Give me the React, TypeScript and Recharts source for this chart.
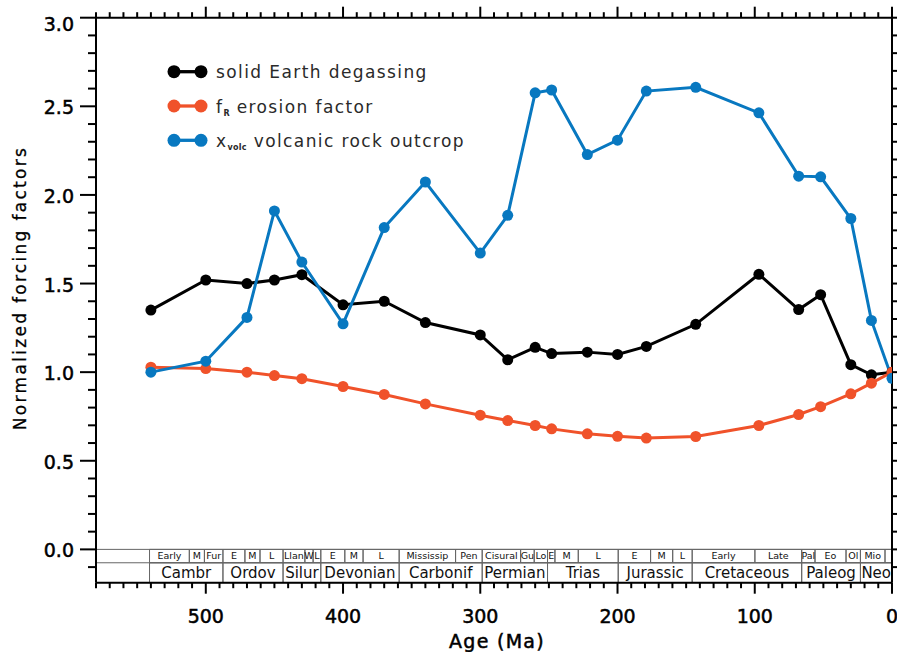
import React from "react";
import {
  LineChart,
  Line,
  XAxis,
  YAxis,
  ReferenceArea,
  ReferenceLine,
  Legend,
} from "recharts";

// Series (age in Ma, normalized values)
const ages = [540, 500, 470, 450, 430, 400, 370, 340, 300, 280, 260, 248, 222, 200, 179, 143, 97, 68, 52, 30, 15, 0];
const degassing = [1.35, 1.52, 1.5, 1.52, 1.55, 1.38, 1.4, 1.28, 1.21, 1.07, 1.14, 1.105, 1.113, 1.1, 1.145, 1.27, 1.552, 1.353, 1.437, 1.042, 0.985, 1.0];
const erosion = [1.028, 1.02, 1.0, 0.981, 0.963, 0.919, 0.874, 0.821, 0.757, 0.727, 0.699, 0.68, 0.652, 0.638, 0.628, 0.637, 0.699, 0.761, 0.805, 0.878, 0.938, 1.0];
const volcanic = [1.0, 1.062, 1.309, 1.91, 1.621, 1.273, 1.816, 2.073, 1.672, 1.885, 2.576, 2.592, 2.228, 2.309, 2.586, 2.607, 2.463, 2.106, 2.102, 1.867, 1.292, 0.965];

// Geologic timescale
const epochNames = ["Early", "M", "Fur", "E", "M", "L", "Llan", "W", "L", "E", "M", "L", "Mississip", "Pen", "Cisural", "Gu", "Lo", "E", "M", "L", "E", "M", "L", "Early", "Late", "Pal", "Eo", "Ol", "Mio", ""];
const epochStarts = [541, 512, 501, 487.5, 471.5, 460.5, 443.7, 427.8, 421.8, 416.2, 398.7, 385.4, 359.1, 318, 298.6, 270.6, 260.7, 251, 245.6, 228.6, 199.5, 175.9, 159.8, 145.6, 99.9, 65.8, 56.1, 33.5, 23, 5.1];
const periodNames = ["Cambr", "Ordov", "Silur", "Devonian", "Carbonif", "Permian", "Trias", "Jurassic", "Cretaceous", "Paleog", "Neo"];
const periodStarts = [541, 487.5, 443.7, 416.2, 359.1, 298.6, 251, 199.5, 145.6, 65.8, 23];

const xTicks = Array.from({ length: 59 }, (_, i) => i * 10);
const yTicks = Array.from({ length: 32 }, (_, i) => (i - 1) / 10);

const Y_MIN = -0.188;
const ROW_SPLIT = -0.0756;

const BLACK = "#000000";
const ORANGE = "#F0522A";
const BLUE = "#0878C0";
const FONT = "DejaVu Sans";

const data = ages.map((age, i) => ({
  age,
  degassing: degassing[i],
  erosion: erosion[i],
  volcanic: volcanic[i],
}));

const BottomTick = (props: any) => {
  const { x, y, payload } = props;
  const v = payload.value;
  const major = v % 100 === 0;
  return (
    <g>
      <line x1={x} x2={x} y1={y} y2={y + (major ? 11 : 5.5)} stroke="#000" strokeWidth={2} />
      {major && (
        <text x={x} y={y + 40} textAnchor="middle" fontSize={19} fontFamily={FONT} fill="#000" stroke="#000" strokeWidth={0.5}>
          {v}
        </text>
      )}
    </g>
  );
};

const TopTick = (props: any) => {
  const { x, y, payload } = props;
  const major = payload.value % 100 === 0;
  return <line x1={x} x2={x} y1={y} y2={y - (major ? 11 : 5.5)} stroke="#000" strokeWidth={2} />;
};

const LeftTick = (props: any) => {
  const { x, y, payload } = props;
  const v = payload.value;
  const major = Math.round(v * 10) % 5 === 0;
  return (
    <g>
      <line x1={x} x2={x - (major ? 16 : 8)} y1={y} y2={y} stroke="#000" strokeWidth={2} />
      {major && v >= 0 && (
        <text x={x - 22} y={y + (v === 3 ? 13 : 8)} textAnchor="end" fontSize={19} fontFamily={FONT} fill="#000" stroke="#000" strokeWidth={0.5}>
          {v.toFixed(1)}
        </text>
      )}
    </g>
  );
};

const RightTick = (props: any) => {
  const { x, y, payload } = props;
  const major = Math.round(payload.value * 10) % 5 === 0;
  return <line x1={x} x2={x + (major ? 16 : 8)} y1={y} y2={y} stroke="#000" strokeWidth={2} />;
};

const legendItems = [
  { color: BLACK, sym: "", sub: "", text: "solid Earth degassing" },
  { color: ORANGE, sym: "f", sub: "R", text: " erosion factor" },
  { color: BLUE, sym: "x", sub: "volc", text: " volcanic rock outcrop" },
];

function LegendBox() {
  return (
    <svg width={340} height={110}>
      {legendItems.map((it, i) => {
        const cy = 21.7 + i * 34.3;
        return (
          <g key={i}>
            <line x1={18} x2={45} y1={cy} y2={cy} stroke={it.color} strokeWidth={3.3} />
            <circle cx={18} cy={cy} r={6.5} fill={it.color} />
            <circle cx={45} cy={cy} r={6.5} fill={it.color} />
            <text x={60} y={cy + 6.5} fontSize={17} letterSpacing={1.4} fontFamily={FONT} fill="#2a2a2a">
              {it.sym && <tspan>{it.sym}</tspan>}
              {it.sub && (
                <tspan fontSize={8} fontWeight="bold" letterSpacing={0.3} dy={3}>
                  {it.sub}
                </tspan>
              )}
              <tspan dy={it.sub ? -3 : 0}>{it.text}</tspan>
            </text>
          </g>
        );
      })}
    </svg>
  );
}

export default function App() {
  return (
    <div style={{ position: "absolute", left: 0, top: 0, width: 897, height: 652, background: "#fff" }}>
      <LineChart width={897} height={652} data={data} margin={{ top: 0, right: 0, bottom: 0, left: 0 }}>
        <XAxis
          dataKey="age"
          type="number"
          domain={[0, 580]}
          reversed
          allowDataOverflow
          ticks={xTicks}
          interval={0}
          tickSize={0}
          tickMargin={0}
          tickLine={false}
          height={69.3}
          axisLine={{ stroke: "#000", strokeWidth: 2 }}
          tick={(p: any) => <BottomTick {...p} />}
          label={{
            content: () => (
              <text x={497} y={648} textAnchor="middle" fontSize={19} letterSpacing={1.3} fontFamily={FONT} fill="#000" stroke="#000" strokeWidth={0.5}>
                Age (Ma)
              </text>
            ),
          }}
        />
        <XAxis
          xAxisId="top"
          orientation="top"
          dataKey="age"
          type="number"
          domain={[0, 580]}
          reversed
          allowDataOverflow
          ticks={xTicks}
          interval={0}
          tickSize={0}
          tickMargin={0}
          tickLine={false}
          height={17.7}
          axisLine={{ stroke: "#000", strokeWidth: 2 }}
          tick={(p: any) => <TopTick {...p} />}
        />
        <YAxis
          type="number"
          domain={[Y_MIN, 3]}
          allowDataOverflow
          ticks={yTicks}
          interval={0}
          tickSize={0}
          tickMargin={0}
          tickLine={false}
          width={96}
          axisLine={{ stroke: "#000", strokeWidth: 2 }}
          tick={(p: any) => <LeftTick {...p} />}
          label={{
            content: () => (
              <text
                x={20}
                y={288}
                transform="rotate(-90 20 288)"
                textAnchor="middle"
                dominantBaseline="central"
                fontSize={17}
                letterSpacing={2.3}
                fontFamily={FONT}
                fill="#000"
                stroke="#000"
                strokeWidth={0.3}
              >
                Normalized forcing factors
              </text>
            ),
          }}
        />
        <YAxis
          yAxisId="right"
          orientation="right"
          type="number"
          domain={[Y_MIN, 3]}
          allowDataOverflow
          ticks={yTicks}
          interval={0}
          tickSize={0}
          tickMargin={0}
          tickLine={false}
          width={5}
          axisLine={{ stroke: "#000", strokeWidth: 2 }}
          tick={(p: any) => <RightTick {...p} />}
        />

        {epochNames.map((name, i) => (
          <ReferenceArea
            key={"e" + i}
            x1={epochStarts[i]}
            x2={i + 1 < epochStarts.length ? epochStarts[i + 1] : 0}
            y1={ROW_SPLIT}
            y2={0}
            fill="#fff"
            fillOpacity={0}
            stroke="#666"
            strokeWidth={1}
            label={{ value: name, position: "center", fontSize: 9.5, fill: "#111", fontFamily: FONT }}
          />
        ))}
        {periodNames.map((name, i) => (
          <ReferenceArea
            key={"p" + i}
            x1={periodStarts[i]}
            x2={i + 1 < periodStarts.length ? periodStarts[i + 1] : 0}
            y1={Y_MIN}
            y2={ROW_SPLIT}
            fill="#fff"
            fillOpacity={0}
            stroke="#666"
            strokeWidth={1}
            label={{ value: name, position: "center", fontSize: 15, fill: "#111", fontFamily: FONT }}
          />
        ))}
        <ReferenceLine y={0} stroke="#666" strokeWidth={1} />
        <ReferenceLine y={ROW_SPLIT} stroke="#666" strokeWidth={1} />

        <Line
          dataKey="degassing"
          stroke={BLACK}
          strokeWidth={3}
          dot={{ r: 5.5, fill: BLACK, stroke: BLACK, strokeWidth: 0 }}
          activeDot={false}
          isAnimationActive={false}
        />
        <Line
          dataKey="erosion"
          stroke={ORANGE}
          strokeWidth={3}
          dot={{ r: 5.5, fill: ORANGE, stroke: ORANGE, strokeWidth: 0 }}
          activeDot={false}
          isAnimationActive={false}
        />
        <Line
          dataKey="volcanic"
          stroke={BLUE}
          strokeWidth={3}
          dot={{ r: 5.5, fill: BLUE, stroke: BLUE, strokeWidth: 0 }}
          activeDot={false}
          isAnimationActive={false}
        />
        <Legend
          layout="vertical"
          align="center"
          verticalAlign="middle"
          wrapperStyle={{ left: 156, top: 50, width: 340, height: 110 }}
          content={() => <LegendBox />}
        />
      </LineChart>
    </div>
  );
}
